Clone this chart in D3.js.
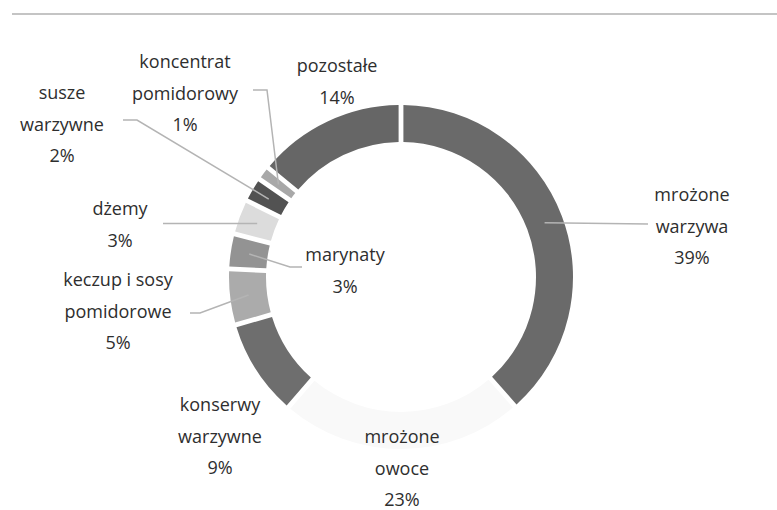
<!DOCTYPE html>
<html>
<head>
<meta charset="utf-8">
<script src="https://cdn.jsdelivr.net/npm/d3@7"></script>
<style>
  html, body { margin: 0; padding: 0; background: #fff; }
  svg { display: block; }
</style>
</head>
<body>
<script>
// ---- data ----
const categories = ["mrożone warzywa", "mrożone owoce", "konserwy warzywne", "keczup i sosy pomidorowe",
                    "marynaty", "dżemy", "susze warzywne", "koncentrat pomidorowy", "pozostałe"];
const labelNames = [["mrożone", "warzywa"], ["mrożone", "owoce"], ["konserwy", "warzywne"],
                    ["keczup i sosy", "pomidorowe"], ["marynaty"], ["dżemy"], ["susze", "warzywne"],
                    ["koncentrat", "pomidorowy"], ["pozostałe"]];
const values = [39, 23, 9, 5, 3, 3, 2, 1, 14];

// ---- styles / layout ----
const colors = ["#6a6a6a", "#f9f9f9", "#6e6e6e", "#ababab", "#939393", "#dcdcdc", "#525252", "#a8a8a8", "#666666"];
const W = 777, H = 510;
const cx = 401, cy = 277, R = 172, r = 135;
// label anchor (centre x, centre y of first line), relative to donut centre
const labelPos = [[291, -82], [1, 160], [-181, 128], [-283, 3], [-56, -22], [-281, -68], [-339, -184], [-216, -215], [-64, -211]];
// leader line bend / end points, relative to donut centre (null = no line)
const leaders = [
  [[247, -53]],
  null,
  null,
  [[-201, 36], [-211, 36]],
  [[-111, -10], [-99, -10]],
  [[-238, null]],
  [[-264, -157], [-278, -157]],
  [[-134, -187], [-148, -187]],
  null
];
const lineH = 31.5;

const svg = d3.select("body").append("svg").attr("width", W).attr("height", H);

// top rule
svg.append("line").attr("x1", 12).attr("x2", W).attr("y1", 14).attr("y2", 14)
  .attr("stroke", "#c4c4c4").attr("stroke-width", 2);

const g = svg.append("g").attr("transform", `translate(${cx},${cy})`);

const pie = d3.pie().value(d => d).sort(null).padAngle(0.022);
const arcs = pie(values);
const arc = d3.arc().innerRadius(r).outerRadius(R);
const midArc = d3.arc().innerRadius((r + R) / 2).outerRadius((r + R) / 2);

g.selectAll("path.slice").data(arcs).join("path")
  .attr("class", "slice")
  .attr("d", arc)
  .attr("fill", (d, i) => colors[i]);

// leader lines
arcs.forEach((d, i) => {
  if (!leaders[i]) return;
  const c = midArc.centroid(d);
  const pts = [c].concat(leaders[i].map(p => [p[0], p[1] === null ? c[1] : p[1]]));
  g.append("path")
    .attr("d", d3.line()(pts))
    .attr("fill", "none")
    .attr("stroke", "#b4b4b4")
    .attr("stroke-width", 1.5);
});

// labels
arcs.forEach((d, i) => {
  const lines = labelNames[i].concat([values[i] + "%"]);
  const t = g.append("text")
    .attr("text-anchor", "middle")
    .attr("font-family", "'Open Sans', sans-serif")
    .attr("font-size", 18)
    .attr("font-weight", 500)
    .attr("fill", "#2e2e2e");
  lines.forEach((s, k) => {
    t.append("tspan")
      .attr("x", labelPos[i][0])
      .attr("y", labelPos[i][1] + k * lineH)
      .attr("dy", "0.35em")
      .text(s);
  });
});
</script>
</body>
</html>
